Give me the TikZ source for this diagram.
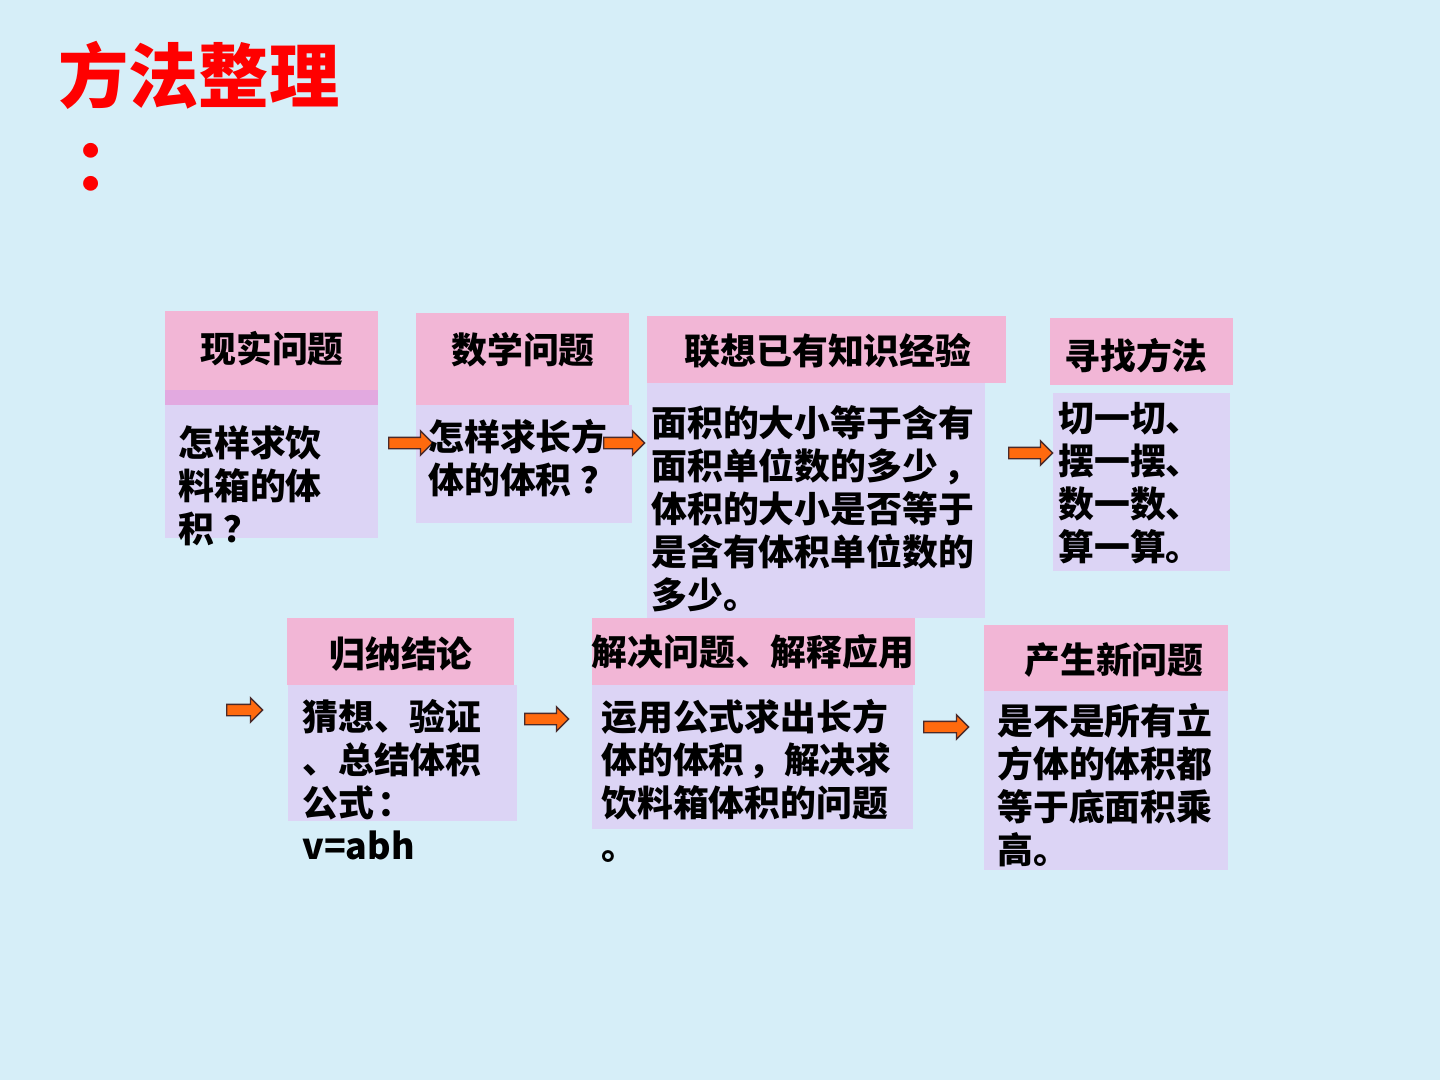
\documentclass[tikz,border=0pt]{standalone}
\usepackage{fontspec}
\usepackage{xcolor}
\usepackage{tikz}
\usetikzlibrary{shapes.arrows}
\setmainfont{Noto Sans CJK SC}
\definecolor{bg}{HTML}{D6EEF8}
\definecolor{head}{HTML}{F2B6D6}
\definecolor{body}{HTML}{DCD4F5}
\definecolor{strip}{HTML}{E2A9E0}
\definecolor{arr}{HTML}{FF6A0E}
\definecolor{arrline}{HTML}{4A2A2A}
\definecolor{ttl}{HTML}{FF0000}

\begin{document}
\begin{tikzpicture}[x=0.02cm, y=-0.02cm,
  headtext/.style={anchor=base, inner sep=0, font=\bfseries\fontsize{20.4pt}{24.4pt}\selectfont},
  bodytext/.style={anchor=base west, inner sep=0, align=left, font=\bfseries\fontsize{20.4pt}{24.4pt}\selectfont},
  blockarrow/.style={single arrow, fill=arr, draw=arrline, line width=0.8pt, inner sep=0.1cm,
    single arrow head extend=0.13cm, anchor=west}]
% page and title (base of a node with several lines = its last line)
\useasboundingbox (0,0) rectangle (1440,1080);
\fill[bg] (0,0) rectangle (1440,1080);
\node[anchor=base west, inner sep=0, align=left, text=ttl,
  font=\bfseries\fontsize{40pt}{50pt}\selectfont] (title) at (58,190) {方法整理\\\hspace*{0.22em}：};

% pink heads and lilac bodies, top row
\fill[head] (165,311) rectangle (378,405);
\fill[strip] (165,390) rectangle (378,405);
\fill[body] (165,405) rectangle (378,538);
\fill[head] (416,313) rectangle (629,405);
\fill[body] (416,405) rectangle (632,523);
\fill[head] (647,316) rectangle (1006,383);
\fill[body] (647,383) rectangle (985,618);
\fill[head] (1050,318) rectangle (1233,385);
\fill[body] (1053,393) rectangle (1230,571);

% bottom row
\fill[head] (287,618) rectangle (514,685);
\fill[body] (288,685) rectangle (517,821);
\fill[head] (592,618) rectangle (915,685);
\fill[body] (592,685) rectangle (913,829);
\fill[head] (984,625) rectangle (1228,691);
\fill[body] (984,691) rectangle (1228,870);

% block arrows
\node[blockarrow, minimum height=0.88cm] (a1) at (388,443) {};
\node[blockarrow, minimum height=0.82cm] (a2) at (603,443) {};
\node[blockarrow, minimum height=0.88cm] (a3) at (1008,453) {};
\node[blockarrow, minimum height=0.72cm] (a4) at (226,710) {};
\node[blockarrow, minimum height=0.88cm] (a5) at (524,719) {};
\node[blockarrow, minimum height=0.90cm] (a6) at (923,727) {};

% headings
\node[headtext] (h1) at (272,362) {现实问题};
\node[headtext] (h2) at (523,363) {数学问题};
\node[headtext] (h3) at (828,364) {联想已有知识经验};
\node[headtext] (h4) at (1136,369) {寻找方法};
\node[headtext] (h5) at (401,667) {归纳结论};
\node[headtext] (h6) at (753,665) {解决问题、解释应用};
\node[headtext] (h7) at (1114,673) {产生新问题};

% texts
\node[bodytext] (t1) at (178,542) {怎样求饮\\料箱的体\\积\hspace{0.25em}？};
\node[bodytext] (t2) at (428,493) {怎样求长方\\体的体积\hspace{0.25em}？};
\node[bodytext] (t3) at (651,608) {面积的大小等于含有\\面积单位数的多少\hspace{0.15em}，\\体积的大小是否等于\\是含有体积单位数的\\多少。};
\node[bodytext] (t4) at (1058,560) {切一切、\\摆一摆、\\数一数、\\算一算。};
\node[bodytext] (t5) at (302,859) {猜想、验证\\、总结体积\\公式\hspace{0.1em}：\\v=abh};
\node[bodytext] (t6) at (601,859) {运用公式求出长方\\体的体积\hspace{0.1em}，解决求\\饮料箱体积的问题\\。};
\node[bodytext] (t7) at (997,863) {是不是所有立\\方体的体积都\\等于底面积乘\\高。};
\end{tikzpicture}
\end{document}
